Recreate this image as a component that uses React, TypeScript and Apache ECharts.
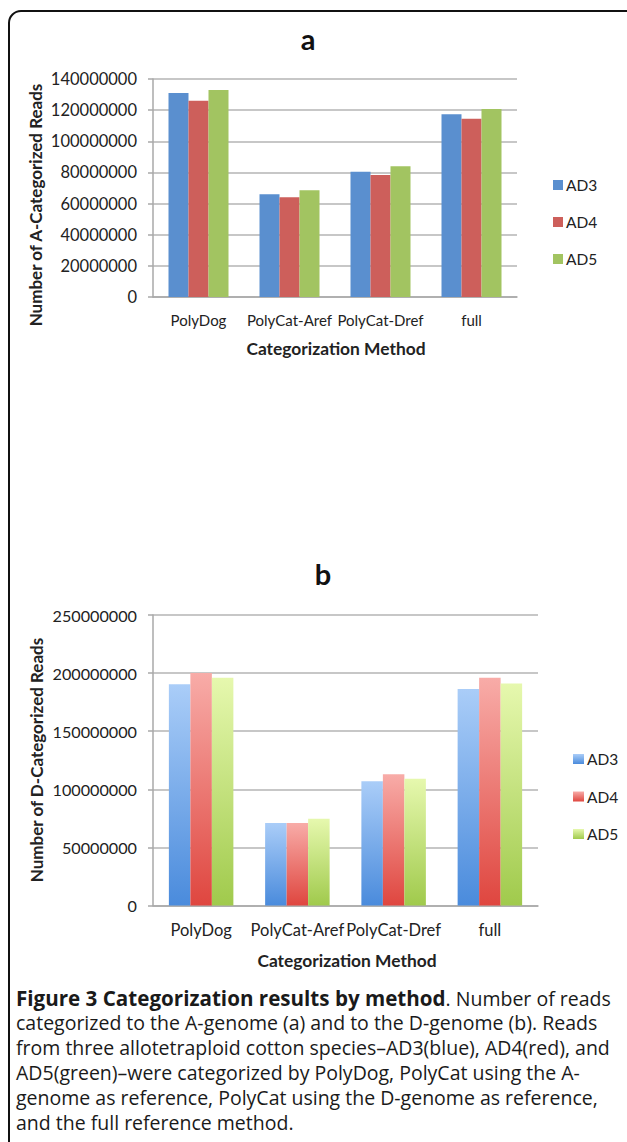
import React, { useEffect, useRef } from 'react';
import * as echarts from 'echarts';

const categories = ['PolyDog', 'PolyCat-Aref', 'PolyCat-Dref', 'full'];
const seriesNames = ['AD3', 'AD4', 'AD5'];

// Panel a: A-categorized reads
const aAD3 = [131000000, 66000000, 80500000, 117300000];
const aAD4 = [126000000, 64000000, 78400000, 114500000];
const aAD5 = [133000000, 68500000, 84000000, 120700000];

// Panel b: D-categorized reads
const dAD3 = [190300000, 71100000, 107000000, 186400000];
const dAD4 = [200000000, 71100000, 113000000, 196100000];
const dAD5 = [196000000, 74600000, 109000000, 191000000];

const aTicks = { min: 0, max: 140000000, interval: 20000000 };
const dTicks = { min: 0, max: 250000000, interval: 50000000 };

const captionLines = [
  '{b|Figure 3 Categorization results by method}. Number of reads',
  'categorized to the A-genome (a) and to the D-genome (b). Reads',
  'from three allotetraploid cotton species–AD3(blue), AD4(red), and',
  'AD5(green)–were categorized by PolyDog, PolyCat using the A-',
  'genome as reference, PolyCat using the D-genome as reference,',
  'and the full reference method.',
];

const FONT = 'Lato, "Noto Sans", sans-serif';
const CAPFONT = '"Open Sans", "Noto Sans", sans-serif';
const topColors = ['#5a8fcf', '#cd5f5b', '#a2c461'];
const grad = (t: string, b: string) =>
  new echarts.graphic.LinearGradient(0, 0, 0, 1, [
    { offset: 0, color: t },
    { offset: 1, color: b },
  ]);
const bottomColors = [
  grad('#aacdf8', '#4a8bdc'),
  grad('#f8aca8', '#df463f'),
  grad('#e6f8ae', '#a0ca4c'),
];

export default function App() {
  const ref = useRef<HTMLDivElement>(null);
  useEffect(() => {
    const chart = echarts.init(ref.current!, null, { renderer: 'svg' });
    const axisColor = '#a8a8a8';
    const xAxisBase = (gridIndex: number, fs: number, margin: number) => ({
      gridIndex,
      type: 'category' as const,
      data: categories,
      axisLine: { lineStyle: { color: axisColor, width: 1.5 } },
      axisTick: { show: false },
      axisLabel: { fontFamily: FONT, fontSize: fs, color: '#222', margin, interval: 0 },
    });
    const yAxisBase = (gridIndex: number, t: any, fs: number) => ({
      gridIndex,
      type: 'value' as const,
      min: t.min,
      max: t.max,
      interval: t.interval,
      axisLine: { show: true, lineStyle: { color: axisColor, width: 1.5 } },
      axisTick: { show: true, length: 5, lineStyle: { color: axisColor, width: 1.5 } },
      splitLine: { lineStyle: { color: '#b4b4b4', width: 1.5 } },
      axisLabel: {
        fontFamily: FONT,
        fontSize: fs,
        color: '#222',
        margin: 16,
        formatter: (v: number) => String(v),
      },
    });
    const topData = [aAD3, aAD4, aAD5];
    const botData = [dAD3, dAD4, dAD5];
    const series: any[] = [];
    seriesNames.forEach((n, i) => {
      series.push({
        name: n,
        type: 'bar',
        xAxisIndex: 0,
        yAxisIndex: 0,
        data: topData[i],
        barWidth: 20,
        barGap: '0%',
        itemStyle: { color: topColors[i] },
      });
    });
    seriesNames.forEach((n, i) => {
      series.push({
        name: n,
        type: 'bar',
        xAxisIndex: 1,
        yAxisIndex: 1,
        data: botData[i],
        barWidth: 21.5,
        barGap: '0%',
        itemStyle: { color: bottomColors[i] },
      });
    });

    const centered = { align: 'center', verticalAlign: 'middle', textAlign: 'center', textVerticalAlign: 'middle' };

    const option: any = {
      animation: false,
      backgroundColor: '#ffffff',
      grid: [
        { left: 153, right: 110, top: 79, height: 218 },
        { left: 153, right: 89, top: 615, height: 290.5 },
      ],
      xAxis: [xAxisBase(0, 15, 15), xAxisBase(1, 16.5, 16)],
      yAxis: [yAxisBase(0, aTicks, 16.5), yAxisBase(1, dTicks, 16.2)],
      legend: [
        {
          data: seriesNames.map((n, i) => ({ name: n, itemStyle: { color: topColors[i] } })),
          orient: 'vertical',
          left: 548,
          top: 172,
          itemWidth: 10,
          itemHeight: 10,
          itemGap: 21,
          icon: 'rect',
          selectedMode: false,
          textStyle: { fontFamily: FONT, fontSize: 15.5, color: '#222', padding: [0, 0, 0, -2] },
        },
        {
          data: seriesNames.map((n, i) => ({ name: n, itemStyle: { color: bottomColors[i] } })),
          orient: 'vertical',
          left: 568,
          top: 746,
          itemWidth: 11,
          itemHeight: 10,
          itemGap: 21.5,
          icon: 'rect',
          selectedMode: false,
          textStyle: { fontFamily: FONT, fontSize: 15.5, color: '#222', padding: [0, 0, 0, -2] },
        },
      ],
      graphic: [
        {
          type: 'rect',
          shape: { x: 9, y: 11, width: 680, height: 1200, r: 12 },
          style: { fill: 'none', stroke: '#111', lineWidth: 2 },
          silent: true,
        },
        {
          type: 'text',
          x: 308,
          y: 38,
          style: { text: 'a', font: `bold 29px ${FONT}`, fill: '#111', ...centered },
        },
        {
          type: 'text',
          x: 323,
          y: 573,
          style: { text: 'b', font: `bold 29px ${FONT}`, fill: '#111', ...centered },
        },
        {
          type: 'text',
          x: 35,
          y: 205,
          rotation: Math.PI / 2,
          style: { text: 'Number of A-Categorized Reads', font: `bold 17px ${FONT}`, fill: '#222', ...centered },
        },
        {
          type: 'text',
          x: 36,
          y: 760,
          rotation: Math.PI / 2,
          style: { text: 'Number of D-Categorized Reads', font: `bold 17px ${FONT}`, fill: '#222', ...centered },
        },
        {
          type: 'text',
          x: 336,
          y: 348,
          style: { text: 'Categorization Method', font: `bold 17.4px ${FONT}`, fill: '#222', ...centered },
        },
        {
          type: 'text',
          x: 347,
          y: 960,
          style: { text: 'Categorization Method', font: `bold 17.4px ${FONT}`, fill: '#222', ...centered },
        },
        ...captionLines.map((line, i) => ({
          type: 'text',
          x: 16,
          y: 998 + i * 24.8,
          style: {
            text: line,
            font: `19.5px ${CAPFONT}`,
            fontFamily: CAPFONT,
            fontSize: 19.5,
            fill: '#1a1a1a',
            align: 'left',
            verticalAlign: 'middle',
            textAlign: 'left',
            textVerticalAlign: 'middle',
            rich: {
              b: { fontFamily: CAPFONT, fontSize: 20.6, fontWeight: 'bold', fill: '#1a1a1a' },
            },
          },
        })),
      ],
      series,
    };
    chart.setOption(option);
    return () => chart.dispose();
  }, []);
  return (
    <div
      ref={ref}
      style={{ position: 'absolute', left: 0, top: 0, width: 627, height: 1142 }}
    />
  );
}
